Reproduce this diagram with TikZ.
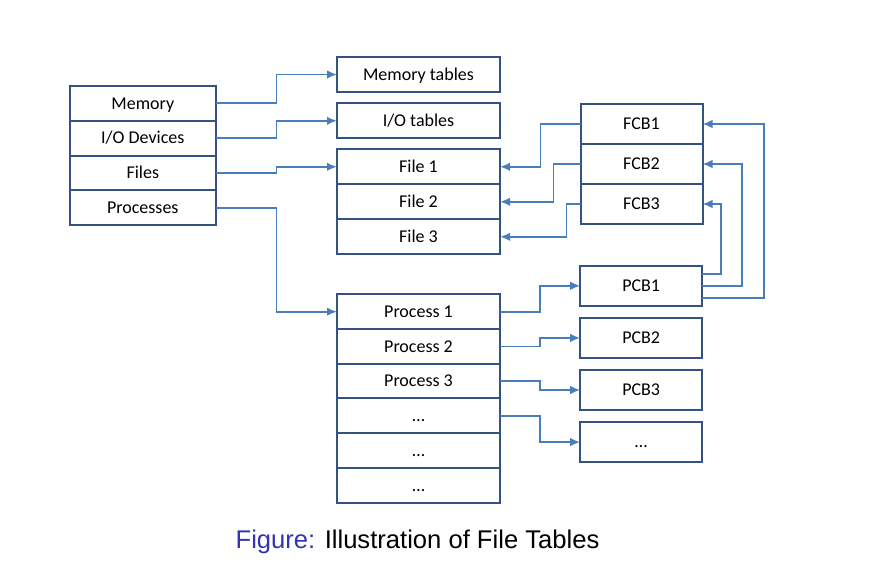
\documentclass[tikz,border=0pt]{standalone}
\usepackage{fontspec}
\setmainfont{Carlito}
\newfontfamily\capfont{Liberation Sans}
\usetikzlibrary{arrows.meta}
\definecolor{boxline}{RGB}{52,82,130}
\definecolor{linkline}{RGB}{74,126,187}
\definecolor{figblue}{RGB}{51,51,179}

\begin{document}
\begin{tikzpicture}[x=1pt, y=-1pt,
  cell/.style={draw=boxline, line width=2pt, inner sep=0pt, outer sep=0pt,
    text height=11.6pt, text depth=0pt,
    minimum width=145.5pt, minimum height=34.8pt, font=\fontsize{18}{20}\selectfont},
  tab/.style={cell, minimum width=163pt, minimum height=35pt},
  cb/.style={cell, minimum width=122pt, minimum height=40.4pt},
  link/.style={draw=linkline, line width=1.8pt, -{Latex[length=10pt,width=8.5pt]}}]

  \useasboundingbox (0,0) rectangle (886,585);

  %left table
  \def\h{34.8};
  \foreach \i/\txt/\name in {0/Memory/mem,1/{I/O Devices}/dev,2/Files/fil,3/Processes/prc}{
    \node[cell] (\name) at (142.8, 103.4 + \i*\h) {\txt};
  }

  %tables
  \node[tab] (memtab) at (418.5, 74.5) {Memory tables};
  \node[tab] (iotab) at (418.5, 120.8) {I/O tables};

  \def\h{35};
  \foreach \i/\txt/\name in {0/File 1/file1,1/File 2/file2,2/File 3/file3}{
    \node[tab] (\name) at (418.5, 166.8 + \i*\h) {\txt};
  }

  \def\h{34.7};
  \foreach \i/\txt/\name in {0/Process 1/proc1,1/Process 2/proc2,2/Process 3/proc3,3/…/proc4,4/…/proc5,5/…/proc6}{
    \node[tab, minimum height=34.7pt] (\name) at (418.5, 311.7 + \i*\h) {\txt};
  }

  %control blocks
  \def\h{40};
  \foreach \i/\txt/\name in {0/FCB1/fcb1,1/FCB2/fcb2,2/FCB3/fcb3}{
    \node[cb, minimum height=40pt] (\name) at (641.5, 124 + \i*\h) {\txt};
  }

  \def\h{52.1};
  \foreach \i/\txt/\name in {0/PCB1/pcb1,1/PCB2/pcb2,2/PCB3/pcb3,3/…/pcb4}{
    \node[cb] (\name) at (641.2, 285.8 + \i*\h) {\txt};
  }

  %links
  \draw[link] (mem.east) -- ++(61,0) |- (memtab.west);
  \draw[link] (dev.east) -- ++(61,0) |- (iotab.west);
  \draw[link] (fil.east) -- ++(61,0) |- (file1.west);
  \draw[link] (prc.east) -- ++(61,0) |- (proc1.west);

  \draw[link] (fcb1.west) -- ++(-40,0) |- (file1.east);
  \draw[link] (fcb2.west) -- ++(-27,0) |- (file2.east);
  \draw[link] (fcb3.west) -- ++(-14,0) |- (file3.east);

  \draw[link] ([yshift=12pt]pcb1.east) -- ++(19,0) |- (fcb3.east);
  \draw[link] (pcb1.east) -- ++(40,0) |- (fcb2.east);
  \draw[link] ([yshift=-12pt]pcb1.east) -- ++(62,0) |- (fcb1.east);

  \draw[link] (proc1.east) -- ++(40,0) |- (pcb1.west);
  \draw[link] (proc2.east) -- ++(40,0) |- (pcb2.west);
  \draw[link] (proc3.east) -- ++(40,0) |- (pcb3.west);
  \draw[link] (proc4.east) -- ++(40,0) |- (pcb4.west);

  %caption
  \node[anchor=base, font=\capfont\fontsize{25.6}{30}\selectfont] (cap) at (417.5, 548)
    {\textcolor{figblue}{Figure:} Illustration of File Tables};

\end{tikzpicture}
\end{document}
